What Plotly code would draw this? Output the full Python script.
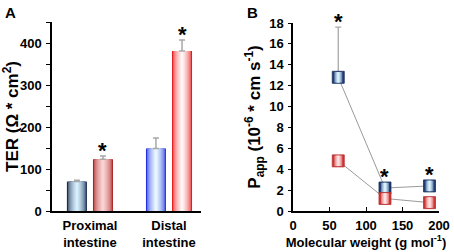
import plotly.graph_objects as go

# ---------------- Data ----------------
# Panel A: transepithelial resistance
regions = ["Proximal<br>intestine", "Distal<br>intestine"]
ter_blue = [70, 149]
ter_blue_err = [3, 25]
ter_red = [123, 381]
ter_red_err = [8, 26]
ter_blue_sig = [False, False]
ter_red_sig = [True, True]

# Panel B: apparent permeability vs molecular weight
mw = [62, 126, 187]
papp_blue = [12.8, 2.2, 2.4]
papp_blue_err_up = [4.8, 0.2, 0.2]
papp_blue_err_down = [0, 0.2, 0.2]
papp_red = [4.8, 1.2, 0.8]
papp_red_err_up = [0.5, 0.15, 0.1]
papp_red_err_down = [0.5, 0.15, 0.1]
papp_blue_sig = [True, True, True]

a_yticks = [0, 100, 200, 300, 400]
b_yticks = [0, 2, 4, 6, 8, 10, 12, 14, 16, 18]
b_xticks = [0, 50, 100, 150, 200]

# ---------------- Styling helpers ----------------
FONT = "Liberation Sans"


def hex2rgb(h):
    h = h.lstrip("#")
    return tuple(int(h[i:i + 2], 16) for i in (0, 2, 4))


def mix(c1, c2, t):
    a, b = hex2rgb(c1), hex2rgb(c2)
    return "rgb(%d,%d,%d)" % tuple(round(a[i] + (b[i] - a[i]) * t) for i in range(3))


fig = go.Figure()

# ---------------- Panel A: gradient bars ----------------
BAR_W = 0.253
N_LAYERS = 10
series_a = [
    dict(vals=ter_blue, err=ter_blue_err, sig=ter_blue_sig, center=-0.165,
         edge=["#142448", "#1f2fe0"], mid=["#d6f0fd", "#e8f7ff"]),
    dict(vals=ter_red, err=ter_red_err, sig=ter_red_sig, center=0.165,
         edge=["#a82424", "#e61a1a"], mid=["#fbd3d3", "#fff6f6"]),
]
for s in series_a:
    for k in range(N_LAYERS):
        w = BAR_W * (1 - k / N_LAYERS)
        t = (k / (N_LAYERS - 1)) ** 0.5
        cols = [mix(s["edge"][i], s["mid"][i], t) for i in range(len(regions))]
        last = k == N_LAYERS - 1
        fig.add_trace(go.Bar(
            x=regions, y=s["vals"], width=[w] * len(regions),
            offset=[s["center"] - w / 2] * len(regions),
            marker=dict(color=cols, line=dict(width=0)),
            error_y=dict(type="data", symmetric=False, array=s["err"],
                         arrayminus=[0] * len(regions), color="#a8a8a8",
                         thickness=1.5, width=3, visible=last),
            xaxis="x", yaxis="y", showlegend=False,
        ))

annotations = []
for s in series_a:
    for i, cat in enumerate(regions):
        if s["sig"][i]:
            annotations.append(dict(
                x=i + s["center"], y=s["vals"][i] + s["err"][i], xref="x", yref="y",
                text="<b>*</b>", showarrow=False, yanchor="bottom", yshift=-9,
                font=dict(family=FONT, size=22, color="black")))

# ---------------- Panel B: lines with gradient squares ----------------
series_b = [
    dict(vals=papp_blue, up=papp_blue_err_up, down=papp_blue_err_down,
         edge="#203c74", mid="#d8f1fd", border="#1a2f5c"),
    dict(vals=papp_red, up=papp_red_err_up, down=papp_red_err_down,
         edge="#cf3434", mid="#fde0e0", border="#b83030"),
]
SQ = 12
for s in series_b:
    fig.add_trace(go.Scatter(
        x=mw, y=s["vals"], mode="lines+markers",
        line=dict(color="#9a9a9a", width=1),
        marker=dict(symbol="square", size=SQ, color=s["edge"],
                    line=dict(color=s["border"], width=0.8)),
        error_y=dict(type="data", symmetric=False, array=s["up"], arrayminus=s["down"],
                     color="#a8a8a8", thickness=1.3, width=3),
        xaxis="x2", yaxis="y2", showlegend=False,
    ))
    widths = [8, 6, 4, 2]
    for j, lw in enumerate(widths):
        t = ((j + 1) / len(widths)) ** 0.6
        fig.add_trace(go.Scatter(
            x=mw, y=s["vals"], mode="markers",
            marker=dict(symbol="line-ns", size=(SQ - 1.6) / 1.4,
                        line=dict(color=mix(s["edge"], s["mid"], t), width=lw)),
            xaxis="x2", yaxis="y2", showlegend=False, hoverinfo="skip",
        ))

PX_PER_UNIT_B = 188 / 18
for i, x in enumerate(mw):
    if papp_blue_sig[i]:
        shift = max(papp_blue_err_up[i] * PX_PER_UNIT_B, SQ / 2)
        annotations.append(dict(
            x=x, y=papp_blue[i], xref="x2", yref="y2", text="<b>*</b>",
            showarrow=False, yanchor="bottom", yshift=shift - 9,
            font=dict(family=FONT, size=22, color="black")))

# Panel letters
annotations.append(dict(x=3 / 454, y=1 - 2 / 252, xref="paper", yref="paper", text="<b>A</b>",
                        showarrow=False, xanchor="left", yanchor="top",
                        font=dict(family=FONT, size=15, color="black")))
annotations.append(dict(x=245 / 454, y=1 - 2 / 252, xref="paper", yref="paper", text="<b>B</b>",
                        showarrow=False, xanchor="left", yanchor="top",
                        font=dict(family=FONT, size=15, color="black")))

tickfont = dict(family=FONT, size=13, color="black", weight="bold")
titlefont = dict(family=FONT, size=17, color="black", weight="bold")

fig.update_layout(
    width=454, height=252, margin=dict(l=0, r=0, t=0, b=0),
    paper_bgcolor="white", plot_bgcolor="white", barmode="overlay",
    annotations=annotations,
    xaxis=dict(domain=[52 / 454, 201 / 454], range=[-0.48, 1.405], showline=True,
               linecolor="black", linewidth=1.5, ticks="", showgrid=False, zeroline=False,
               tickfont=dict(family=FONT, size=13, color="black", weight="bold"),
               ticklabelstandoff=2, automargin=False, fixedrange=True),
    yaxis=dict(domain=[1 - 211 / 252, 1 - 22 / 252], range=[0, 450], tickvals=a_yticks,
               showline=True, linecolor="black", linewidth=1.5, ticks="outside", ticklen=4,
               tickcolor="black", tickwidth=1.2, showgrid=False, zeroline=False,
               minor=dict(dtick=50, tick0=0, ticks="outside", ticklen=4, tickcolor="black",
                          tickwidth=1.2, showgrid=False),
               tickfont=tickfont, ticklabelstandoff=2, automargin=False,
               title=dict(text="TER (Ω * cm<sup>2</sup>)", font=titlefont, standoff=4)),
    xaxis2=dict(domain=[293 / 454, 439 / 454], range=[0, 200], tickvals=b_xticks,
                showline=True, linecolor="black", linewidth=1.5, ticks="inside", ticklen=4,
                tickcolor="black", tickwidth=1.2, showgrid=False, zeroline=False,
                tickfont=tickfont, ticklabelstandoff=2, automargin=False, anchor="y2",
                title=dict(text="Molecular weight (g mol<sup>-1</sup>)",
                           font=dict(family=FONT, size=13, color="black", weight="bold"),
                           standoff=4)),
    yaxis2=dict(domain=[1 - 211 / 252, 1 - 23 / 252], range=[0, 18], tickvals=b_yticks,
                showline=True, linecolor="black", linewidth=1.5, ticks="outside", ticklen=3,
                tickcolor="black", tickwidth=1.2, showgrid=False, zeroline=False,
                tickfont=tickfont, ticklabelstandoff=2, automargin=False, anchor="x2",
                title=dict(text="P<sub>app</sub> (10<sup>-6</sup> * cm s<sup>-1</sup>)",
                           font=titlefont, standoff=4)),
)

fig.write_html("out.html", config={"displayModeBar": False},
               post_script="document.body.style.margin='0';document.body.style.padding='0';")
